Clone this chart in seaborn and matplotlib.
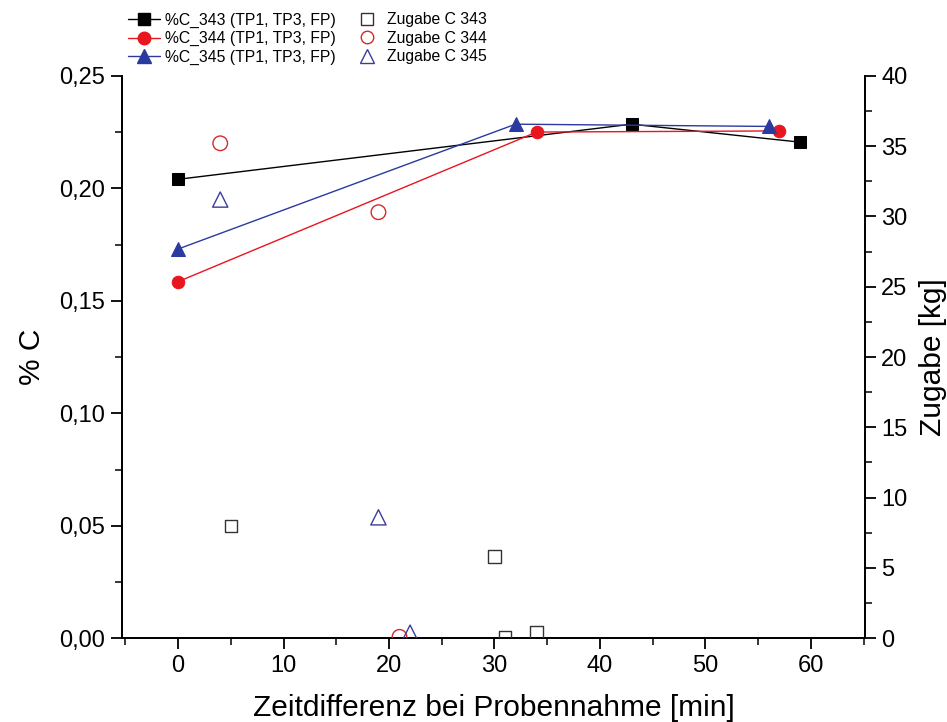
import matplotlib
matplotlib.use("Agg")
import matplotlib.pyplot as plt
import seaborn as sns
import pandas as pd
from matplotlib.ticker import MultipleLocator, FuncFormatter
from matplotlib.lines import Line2D

sns.set_theme(style="ticks")
plt.rcParams['font.family'] = ['Liberation Sans', 'DejaVu Sans']
plt.rcParams['text.color'] = 'black'
plt.rcParams['axes.labelcolor'] = 'black'

# %C series (left axis)
t_343 = [0, 43, 59]
c_343 = [0.204, 0.2285, 0.2205]
t_344 = [0, 34, 57]
c_344 = [0.1585, 0.2250, 0.2255]
t_345 = [0, 32, 56]
c_345 = [0.1730, 0.2285, 0.2275]

# Zugabe (right axis, kg)
zt_343 = [5, 30, 31, 34]
zk_343 = [8.0, 5.8, 0.1, 0.4]
zt_344 = [4, 19, 21]
zk_344 = [35.2, 30.3, 0.1]
zt_345 = [4, 19, 22]
zk_345 = [31.2, 8.6, 0.4]

labels_c = ["%C_343 (TP1, TP3, FP)", "%C_344 (TP1, TP3, FP)", "%C_345 (TP1, TP3, FP)"]
labels_z = ["Zugabe C 343", "Zugabe C 344", "Zugabe C 345"]

col_k = "#000000"
col_r = "#e8161e"
col_b = "#2a3a9e"
ecol_k = "#333333"
ecol_r = "#d42a2a"
ecol_b = "#3c3c9c"

fig = plt.figure(figsize=(9.47, 7.22), dpi=100)
ax = fig.add_axes([0.129, 0.116, 0.784, 0.779])
ax2 = ax.twinx()

series = [(t_343, c_343, col_k, "s", 8), (t_344, c_344, col_r, "o", 9), (t_345, c_345, col_b, "^", 10)]
for (t, c, col, m, ms) in series:
    df = pd.DataFrame({"t": t, "c": c})
    sns.lineplot(data=df, x="t", y="c", ax=ax, color=col, marker=m, markersize=ms,
                 markeredgecolor=col, linewidth=1.0, legend=False, sort=False)

zser = [(zt_343, zk_343, ecol_k, "s", 80), (zt_344, zk_344, ecol_r, "o", 110), (zt_345, zk_345, ecol_b, "^", 120)]
for (t, k, col, m, s) in zser:
    df = pd.DataFrame({"t": t, "k": k})
    sns.scatterplot(data=df, x="t", y="k", ax=ax2, marker=m, s=s, facecolor="none",
                    edgecolor=col, linewidth=1.0, legend=False, zorder=5)

ax.set_xlim(-5.3, 65.1)
ax.set_ylim(0, 0.25)
ax2.set_ylim(0, 40)

ax.xaxis.set_major_locator(MultipleLocator(10))
ax.xaxis.set_minor_locator(MultipleLocator(5))
ax.yaxis.set_major_locator(MultipleLocator(0.05))
ax.yaxis.set_minor_locator(MultipleLocator(0.025))
ax.yaxis.set_major_formatter(FuncFormatter(lambda v, p: f"{v:.2f}".replace(".", ",")))
ax2.yaxis.set_major_locator(MultipleLocator(5))
ax2.yaxis.set_minor_locator(MultipleLocator(2.5))

for a in (ax, ax2):
    a.spines['top'].set_visible(False)
    for s in a.spines.values():
        s.set_linewidth(1.3)
        s.set_color("black")
    a.tick_params(which="major", direction="out", length=8, width=1.3, labelsize=17,
                  colors="black", pad=4)
    a.tick_params(which="minor", direction="out", length=5, width=1.3)

ax.set_xlabel("Zeitdifferenz bei Probennahme [min]", fontsize=21.5, labelpad=12)
ax.set_ylabel("% C", fontsize=21.5, labelpad=10)
ax2.set_ylabel("Zugabe [kg]", fontsize=21.5, labelpad=8)

handles = [
    Line2D([], [], color=col_k, marker="s", markersize=8, linewidth=1.0),
    Line2D([], [], color=col_r, marker="o", markersize=9, linewidth=1.0),
    Line2D([], [], color=col_b, marker="^", markersize=10, linewidth=1.0),
    Line2D([], [], color=ecol_k, marker="s", markersize=8, markerfacecolor="none", linestyle="none"),
    Line2D([], [], color=ecol_r, marker="o", markersize=9, markerfacecolor="none", linestyle="none"),
    Line2D([], [], color=ecol_b, marker="^", markersize=10, markerfacecolor="none", linestyle="none"),
]
fig.legend(handles, labels_c + labels_z, loc="upper left", bbox_to_anchor=(0.124, 0.998),
           ncol=2, frameon=False, fontsize=11.3, handlelength=2.0, handletextpad=0.3,
           columnspacing=1.0, labelspacing=0.22, borderaxespad=0.3)

fig.savefig("out.png", dpi=100)
